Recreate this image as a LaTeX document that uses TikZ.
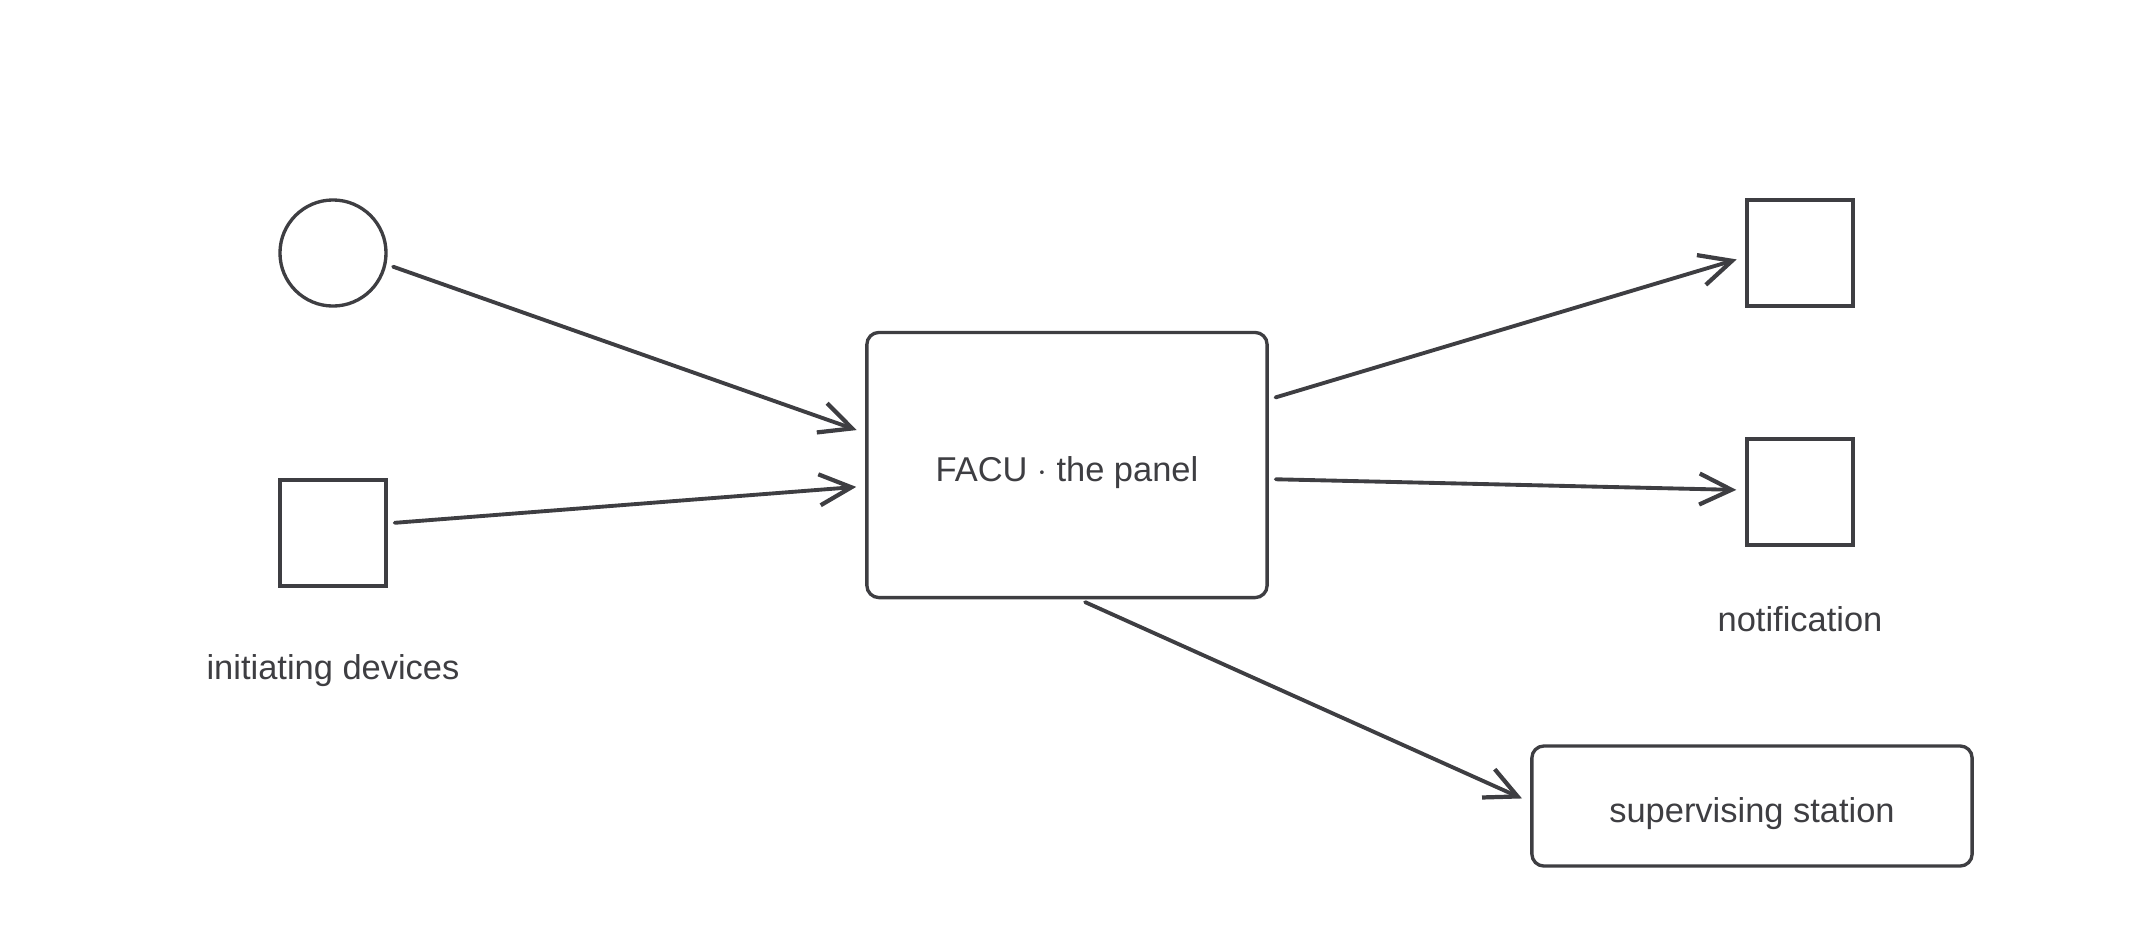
\documentclass[tikz,border=0pt]{standalone}
\usepackage{fontspec}
\setmainfont{Liberation Sans}
\usetikzlibrary{arrows.meta}
\definecolor{ink}{RGB}{62,62,66}

\begin{document}
\begin{tikzpicture}[x=0.01cm, y=-0.01cm,
    every node/.style={text=ink, font=\fontsize{9.8}{12}\selectfont},
    device/.style={draw=ink, line width=0.95pt, rectangle, minimum size=10.6mm, inner sep=0pt},
    sensor/.style={draw=ink, line width=0.95pt, circle, minimum size=10.6mm, inner sep=0pt},
    panel/.style={draw=ink, line width=0.95pt, rectangle, rounded corners=1.2mm, inner sep=0pt,
        text height=11.6pt, text depth=2.1pt},
    link/.style={draw=ink, line width=1.1pt, line cap=round, line join=round,
        -{Straight Barb[length=3.2mm, width=3.1mm, line width=1.2pt]},
        shorten <=0.7mm, shorten >=0.9mm}]
    \useasboundingbox (0,0) rectangle (2133,933);

    % Initiating devices
    \node[sensor] (smoke) at (333,253) {};
    \node[device] (pull) at (333,533) {};
    \node (initlabel) at (333,671) {initiating devices};

    % The panel
    \node[panel, minimum width=40mm, minimum height=26.5mm] (facu) at (1067,465) {FACU $\cdot$ the panel};

    % Notification appliances
    \node[device] (horn) at (1800,253) {};
    \node[device] (strobe) at (1800,492) {};
    \node (notiflabel) at (1800,619) {notification};

    % Supervising station
    \node[panel, minimum width=44mm, minimum height=12mm] (station) at (1752,806) {supervising station};

    % Connections
    \draw[link] (smoke.-12) -- (facu.171);
    \draw[link] (pull.10) -- (facu.186);
    \draw[link] (facu.18) -- (horn.184);
    \draw[link] (facu.-4) -- (strobe.178);
    \draw[link] (facu.-85) -- (station.179);
\end{tikzpicture}
\end{document}
